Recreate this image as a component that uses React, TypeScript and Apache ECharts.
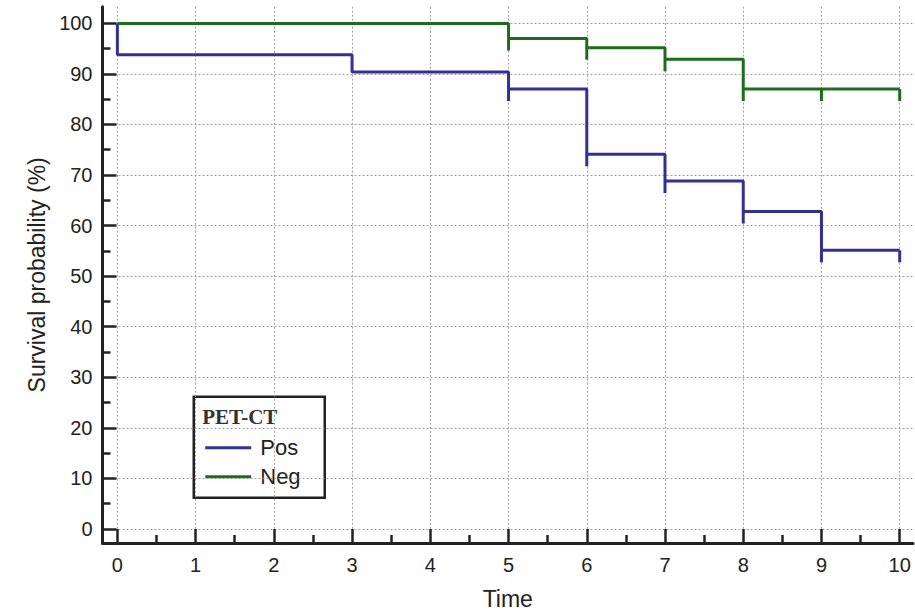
import React, { useEffect, useRef } from "react";
import * as echarts from "echarts";

// ---- data ----
const timeTicks = [0, 1, 2, 3, 4, 5, 6, 7, 8, 9, 10];
const timeMinorTicks = [0.5, 1.5, 2.5, 3.5, 4.5, 5.5, 6.5, 7.5, 8.5, 9.5];
const survTicks = [0, 10, 20, 30, 40, 50, 60, 70, 80, 90, 100];
const survMinorTicks = [5, 15, 25, 35, 45, 55, 65, 75, 85, 95];

// Pos group: event times and survival (%) after each event
const posEventTimes = [0, 3, 5, 6, 7, 8, 9];
const posSurvival = [93.8, 90.4, 87.0, 74.1, 68.8, 62.8, 55.1];
const posCensorTimes = [5, 6, 7, 8, 9, 10];

// Neg group
const negEventTimes = [5, 6, 7, 8];
const negSurvival = [97.0, 95.2, 92.9, 87.0];
const negCensorTimes = [5, 6, 7, 8, 9, 10];

const endTime = 10;
const startSurvival = 100;

const legendTitle = "PET-CT";
const seriesNames = ["Pos", "Neg"];
const colors = ["#2f2fa0", "#1b6e1b"];

function buildSteps(times: number[], surv: number[]) {
  const pts: number[][] = [[0, startSurvival]];
  times.forEach((t, i) => pts.push([t, surv[i]]));
  pts.push([endTime, surv[surv.length - 1]]);
  return pts;
}

function levelAt(times: number[], surv: number[], t: number) {
  let v = startSurvival;
  times.forEach((et, i) => {
    if (et <= t) v = surv[i];
  });
  return v;
}

function censorData(times: number[], surv: number[], cens: number[]) {
  return cens.map((t) => [t, levelAt(times, surv, t)]);
}

const FONT = "'Liberation Sans', Arial, sans-serif";

export default function App() {
  const ref = useRef<HTMLDivElement>(null);

  useEffect(() => {
    if (!ref.current) return;
    const chart = echarts.init(ref.current, undefined, { renderer: "svg" });

    const gridPos = { left: 102.5, right: 2, top: 6.7, bottom: 73 };
    const xMin = -0.19;
    const xMax = 10.17;
    const yMin = -2.8;
    const yMax = 103.3;

    const censorSeries = (name: string, data: number[][], color: string) => ({
      type: "custom",
      name,
      xAxisIndex: 0,
      yAxisIndex: 0,
      data,
      z: 5,
      renderItem: (params: any, api: any) => {
        const p = api.coord([api.value(0), api.value(1)]);
        return {
          type: "line",
          shape: { x1: p[0], y1: p[1], x2: p[0], y2: p[1] + 12 },
          style: { stroke: color, lineWidth: 3 },
        };
      },
    });

    const option: any = {
      animation: false,
      backgroundColor: "#ffffff",
      grid: [
        { ...gridPos, containLabel: false },
        { ...gridPos, containLabel: false },
      ],
      xAxis: [
        {
          type: "value",
          gridIndex: 0,
          min: xMin,
          max: xMax,
          minInterval: 1,
          maxInterval: 1,
          name: "Time",
          nameLocation: "middle",
          nameGap: 44,
          nameTextStyle: { fontFamily: FONT, fontSize: 23, color: "#222" },
          axisLine: { show: true, onZero: false, lineStyle: { color: "#222", width: 3 } },
          axisTick: {
            show: true,
            inside: true,
            length: 14,
            customValues: timeTicks,
            lineStyle: { color: "#222", width: 2.5 },
          },
          axisLabel: {
            show: true,
            customValues: timeTicks,
            margin: 12,
            fontFamily: FONT,
            fontSize: 20,
            color: "#222",
          },
          splitLine: {
            show: true,
            lineStyle: { color: "#a0a0a0", width: 1, type: [2, 2] },
          },
        },
        {
          type: "value",
          gridIndex: 1,
          min: xMin,
          max: xMax,
          axisLine: { show: false, onZero: false },
          axisTick: {
            show: true,
            inside: true,
            length: 8,
            customValues: timeMinorTicks,
            lineStyle: { color: "#222", width: 2.5 },
          },
          axisLabel: { show: false },
          splitLine: { show: false },
        },
      ],
      yAxis: [
        {
          type: "value",
          gridIndex: 0,
          min: yMin,
          max: yMax,
          minInterval: 10,
          maxInterval: 10,
          name: "Survival probability (%)",
          nameLocation: "middle",
          nameGap: 48,
          nameTextStyle: { fontFamily: FONT, fontSize: 23, color: "#222" },
          axisLine: { show: true, onZero: false, lineStyle: { color: "#222", width: 3 } },
          axisTick: {
            show: true,
            inside: true,
            length: 14,
            customValues: survTicks,
            lineStyle: { color: "#222", width: 2.5 },
          },
          axisLabel: {
            show: true,
            customValues: survTicks,
            margin: 10,
            fontFamily: FONT,
            fontSize: 20,
            color: "#222",
          },
          splitLine: {
            show: true,
            lineStyle: { color: "#a0a0a0", width: 1, type: [2, 2] },
          },
        },
        {
          type: "value",
          gridIndex: 1,
          min: yMin,
          max: yMax,
          axisLine: { show: false, onZero: false },
          axisTick: {
            show: true,
            inside: true,
            length: 8,
            customValues: survMinorTicks,
            lineStyle: { color: "#222", width: 2.5 },
          },
          axisLabel: { show: false },
          splitLine: { show: false },
        },
      ],
      series: [
        {
          type: "line",
          name: seriesNames[0],
          xAxisIndex: 0,
          yAxisIndex: 0,
          step: "end",
          data: buildSteps(posEventTimes, posSurvival),
          showSymbol: false,
          symbol: "none",
          lineStyle: { color: colors[0], width: 3 },
          itemStyle: { color: colors[0] },
          z: 3,
        },
        censorSeries(seriesNames[0] + " censored", censorData(posEventTimes, posSurvival, posCensorTimes), colors[0]),
        {
          type: "line",
          name: seriesNames[1],
          xAxisIndex: 0,
          yAxisIndex: 0,
          step: "end",
          data: buildSteps(negEventTimes, negSurvival),
          showSymbol: false,
          symbol: "none",
          lineStyle: { color: colors[1], width: 3 },
          itemStyle: { color: colors[1] },
          z: 4,
        },
        censorSeries(seriesNames[1] + " censored", censorData(negEventTimes, negSurvival, negCensorTimes), colors[1]),
      ],
      graphic: [
        {
          type: "group",
          left: 192.5,
          top: 395.5,
          z: 100,
          children: [
            {
              type: "rect",
              shape: { x: 0, y: 0, width: 131, height: 101 },
              style: { fill: "#ffffff", stroke: "#222", lineWidth: 2.5 },
            },
            {
              type: "text",
              x: 8.5,
              y: 20.5,
              style: {
                text: legendTitle,
                font: "bold 21px 'Liberation Serif', 'Times New Roman', serif",
                fill: "#333",
                verticalAlign: "middle",
                align: "left",
              },
            },
            {
              type: "line",
              shape: { x1: 11.5, y1: 51, x2: 57.5, y2: 51 },
              style: { stroke: colors[0], lineWidth: 3 },
            },
            {
              type: "text",
              x: 66.5,
              y: 51,
              style: {
                text: seriesNames[0],
                font: "22px 'Liberation Sans', Arial, sans-serif",
                fill: "#222",
                verticalAlign: "middle",
                align: "left",
              },
            },
            {
              type: "line",
              shape: { x1: 11.5, y1: 80, x2: 57.5, y2: 80 },
              style: { stroke: colors[1], lineWidth: 3 },
            },
            {
              type: "text",
              x: 66.5,
              y: 80,
              style: {
                text: seriesNames[1],
                font: "22px 'Liberation Sans', Arial, sans-serif",
                fill: "#222",
                verticalAlign: "middle",
                align: "left",
              },
            },
          ],
        },
      ],
    };

    chart.setOption(option);
    return () => chart.dispose();
  }, []);

  return (
    <div
      ref={ref}
      style={{ position: "fixed", left: 0, top: 0, width: 915, height: 616, background: "#fff" }}
    />
  );
}
